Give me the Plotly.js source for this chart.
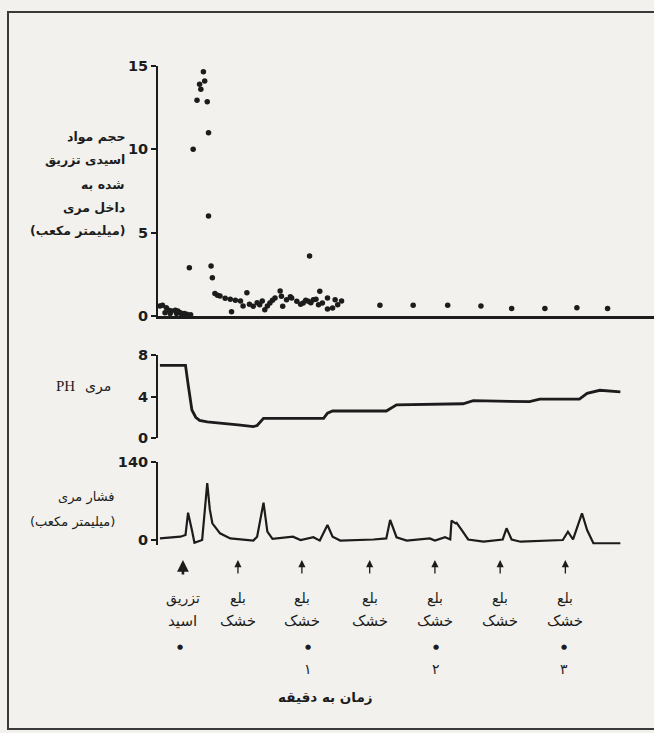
<!DOCTYPE html>
<html><head><meta charset="utf-8">
<script src="https://cdn.plot.ly/plotly-3.0.1.min.js"></script>
<style>html,body{margin:0;padding:0;background:#f2f1ed}</style>
</head><body>
<div id="chart" style="width:654px;height:733px"></div>
<script>
// ---- data (time in minutes) ----
const acidTime = [-0.16,-0.14,-0.12,-0.11,-0.09,-0.08,-0.07,-0.04,-0.03,-0.02,0.00,0.01,0.03,0.05,0.08,
  0.07,0.10,0.13,0.15,0.16,0.18,0.19,0.21,0.22,0.22,0.24,0.25,1.01,0.40,
  0.27,0.29,0.31,0.35,0.39,0.43,0.47,0.49,0.52,0.54,0.57,0.60,0.62,0.64,0.66,0.68,0.70,0.72,0.74,0.78,0.79,0.80,
  0.83,0.86,0.87,0.91,0.94,0.96,0.98,1.00,1.02,1.04,1.06,1.08,1.09,1.11,1.15,1.15,1.19,1.21,1.23,1.26,
  1.56,1.82,2.09,2.35,2.59,2.85,3.10,3.34];
const acidVolume = [0.6,0.65,0.2,0.5,0.35,0.15,0.3,0.35,0.15,0.3,0.2,0.12,0.15,0.1,0.08,
  2.9,10.0,12.95,13.9,13.6,14.65,14.1,12.85,11.0,6.0,3.0,2.3,3.6,0.25,
  1.35,1.25,1.2,1.07,1.0,0.95,0.9,0.6,1.4,0.7,0.58,0.8,0.68,0.9,0.38,0.6,0.78,0.95,1.08,1.5,1.19,0.58,
  0.98,1.15,1.08,0.89,0.7,0.78,0.95,0.89,0.8,0.98,1.0,0.68,1.49,0.78,1.08,0.42,0.48,0.98,0.68,0.9,
  0.65,0.65,0.65,0.6,0.45,0.45,0.5,0.45];

const phTime  = [-0.16,0.04,0.06,0.09,0.12,0.15,0.21,0.31,0.47,0.57,0.60,0.65,1.12,1.15,1.19,1.61,1.69,2.21,2.29,2.73,2.81,3.12,3.18,3.28,3.44];
const phValue = [7.0,7.0,5.2,2.7,2.0,1.7,1.55,1.45,1.25,1.1,1.2,1.9,1.9,2.4,2.6,2.6,3.2,3.3,3.6,3.5,3.75,3.75,4.3,4.6,4.45];

const pressureTime  = [-0.16,0.00,0.04,0.06,0.09,0.11,0.17,0.21,0.23,0.25,0.31,0.39,0.57,0.60,0.65,0.67,0.68,0.72,0.88,0.94,1.04,1.09,1.15,1.19,1.25,1.51,1.61,1.64,1.69,1.77,1.95,1.99,2.07,2.11,2.12,2.15,2.16,2.20,2.25,2.37,2.52,2.55,2.59,2.66,2.99,3.03,3.07,3.14,3.18,3.23,3.44];
const pressureValue = [3,6,9,49,18,-5,0,102,55,30,12,3,-1,6,67,30,15,2,6,0,5,-1,27,6,-1,1,3,36,5,-1,3,-1,5,1,35,30,31,18,1,-3,1,21,1,-3,0,15,1,48,18,-6,-6];

const eventTimes = [0.02,0.45,0.95,1.48,1.99,2.50,3.01];
const eventLine1 = ['تزریق','بلع','بلع','بلع','بلع','بلع','بلع'];
const eventLine2 = ['اسید','خشک','خشک','خشک','خشک','خشک','خشک'];
const minuteTicks = [0,1,2,3];
const minuteLabels = ['','۱','۲','۳'];

const topTicks = [0,5,10,15];
const phTicks = [0,4,8];
const pressureTicks = [0,140];

const topLabel = ['حجم مواد','اسیدی تزریق','شده به','داخل مری','(میلیمتر مکعب)'];
const phLabel = ['PH','مری'];
const pressureLabel = ['فشار مری','(میلیمتر مکعب)'];
const xTitle = 'زمان به دقیقه';

// ---- layout helpers ----
const W = 654, H = 733;
const py = p => 1 - p / H;
const px = p => p / W;
const ink = '#1c1c1c';
const fa = 'DejaVu Sans, Noto Sans, sans-serif';

const traces = [
  {x: acidTime, y: acidVolume, xaxis:'x', yaxis:'y', type:'scatter', mode:'markers',
   marker:{size:5.5, color:ink}, cliponaxis:false, hoverinfo:'skip'},
  {x: phTime, y: phValue, xaxis:'x', yaxis:'y2', type:'scatter', mode:'lines',
   line:{color:ink, width:2.8}, hoverinfo:'skip'},
  {x: pressureTime, y: pressureValue, xaxis:'x', yaxis:'y3', type:'scatter', mode:'lines',
   line:{color:ink, width:2.2}, hoverinfo:'skip'}
];

const yBase = {showgrid:false, zeroline:false, showline:true, linecolor:ink, linewidth:2,
  ticks:'outside', ticklen:5, tickwidth:2, tickcolor:ink,
  tickfont:{family:'DejaVu Sans', size:14.5, color:ink, weight:'bold'}, anchor:'x', fixedrange:true};

const annotations = [];
eventTimes.forEach((t,i) => {
  const acid = i === 0;
  annotations.push({x:t, y:py(560), xref:'x', yref:'paper', text:'', showarrow:true,
    ax:0, ay:acid?16:15, arrowhead:2, arrowsize:acid?0.9:1.1, arrowwidth:acid?2.6:1.3, arrowcolor:ink});
  annotations.push({x:t, y:py(598), xref:'x', yref:'paper', text:eventLine1[i], showarrow:false,
    xanchor:'center', yanchor:'middle', font:{family:fa, size:14, color:ink}});
  annotations.push({x:t, y:py(621), xref:'x', yref:'paper', text:eventLine2[i], showarrow:false,
    xanchor:'center', yanchor:'middle', font:{family:fa, size:15, color:ink}});
});
minuteTicks.forEach((t,i) => {
  annotations.push({x:t, y:py(647), xref:'x', yref:'paper', text:'●', showarrow:false,
    xanchor:'center', yanchor:'middle', font:{family:fa, size:7, color:ink}});
  if (minuteLabels[i]) annotations.push({x:t, y:py(669), xref:'x', yref:'paper', text:minuteLabels[i], showarrow:false,
    xanchor:'center', yanchor:'middle', font:{family:fa, size:14, color:ink}});
});
annotations.push({x:px(325), y:py(697), xref:'paper', yref:'paper', text:xTitle, showarrow:false,
  xanchor:'center', yanchor:'middle', font:{family:fa, size:13.5, color:ink, weight:'bold'}});
const topY = [136,160,184,207,230];
topLabel.forEach((s,i) => annotations.push({x:px(127), y:py(topY[i]), xref:'paper', yref:'paper', text:s,
  showarrow:false, xanchor:'right', yanchor:'middle', font:{family:fa, size:12.5, color:ink, weight:'bold'}}));
annotations.push({x:px(77), y:py(386), xref:'paper', yref:'paper', text:phLabel[0], showarrow:false,
  xanchor:'right', yanchor:'middle', font:{family:'Liberation Serif', size:15, color:ink}});
annotations.push({x:px(113), y:py(386), xref:'paper', yref:'paper', text:phLabel[1], showarrow:false,
  xanchor:'right', yanchor:'middle', font:{family:fa, size:14, color:ink}});
const prY = [497,522];
pressureLabel.forEach((s,i) => annotations.push({x:px(117), y:py(prY[i]), xref:'paper', yref:'paper', text:s,
  showarrow:false, xanchor:'right', yanchor:'middle', font:{family:fa, size:13, color:ink}}));

const layout = {
  width:W, height:H, margin:{l:0,r:0,t:0,b:0},
  paper_bgcolor:'#f2f1ed', plot_bgcolor:'rgba(0,0,0,0)', showlegend:false,
  xaxis:{domain:[158/W,1], range:[-0.175,3.703], anchor:'y', showgrid:false, zeroline:false,
    showline:true, linecolor:ink, linewidth:3, ticks:'', showticklabels:false, fixedrange:true},
  yaxis:Object.assign({}, yBase, {domain:[py(316),py(66)], range:[0,15], tickvals:topTicks}),
  yaxis2:Object.assign({}, yBase, {domain:[py(438),py(355)], range:[0,8], tickvals:phTicks}),
  yaxis3:Object.assign({}, yBase, {domain:[py(544.5),py(462)], range:[-8,140], tickvals:pressureTicks}),
  annotations: annotations,
  shapes:[{type:'rect', xref:'paper', yref:'paper', x0:px(8), x1:1.02, y0:py(729), y1:py(12),
    line:{color:'#3a3a3a', width:2}}]
};

Plotly.newPlot('chart', traces, layout, {staticPlot:true, displayModeBar:false});
</script></body></html>
